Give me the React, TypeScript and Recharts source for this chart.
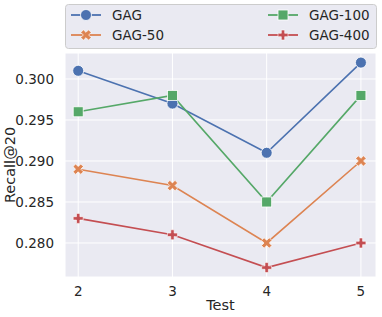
import { LineChart, Line, XAxis, YAxis, CartesianGrid, Label } from "recharts";

const tests = [2, 3, 4, 5];
const gag = [0.301, 0.297, 0.291, 0.302];
const gag50 = [0.289, 0.287, 0.28, 0.29];
const gag100 = [0.296, 0.298, 0.285, 0.298];
const gag400 = [0.283, 0.281, 0.277, 0.28];
const yTicks = [0.28, 0.285, 0.29, 0.295, 0.3];

const FONT = "DejaVu Sans, sans-serif";
const TEXT = "#262626";

const series = [
  { key: "gag", name: "GAG", color: "#4C72B0", marker: "circle" },
  { key: "gag50", name: "GAG-50", color: "#DD8452", marker: "x" },
  { key: "gag100", name: "GAG-100", color: "#55A868", marker: "square" },
  { key: "gag400", name: "GAG-400", color: "#C44E52", marker: "plus" },
];

const data = tests.map((t, i) => ({
  test: t,
  gag: gag[i],
  gag50: gag50[i],
  gag100: gag100[i],
  gag400: gag400[i],
}));

function Marker({ cx, cy, kind, color }: { cx: number; cy: number; kind: string; color: string }) {
  if (kind === "circle") {
    return <circle cx={cx} cy={cy} r={5.5} fill={color} stroke="#fff" strokeWidth={0.8} />;
  }
  if (kind === "square") {
    return <rect x={cx - 5} y={cy - 5} width={10} height={10} fill={color} stroke="#fff" strokeWidth={0.8} />;
  }
  const a = 5;
  const w = 1.7;
  const plus = `M${-w},${-a} L${w},${-a} L${w},${-w} L${a},${-w} L${a},${w} L${w},${w} L${w},${a} L${-w},${a} L${-w},${w} L${-a},${w} L${-a},${-w} L${-w},${-w} Z`;
  const rot = kind === "x" ? 45 : 0;
  const scale = kind === "x" ? 1.1 : 1;
  return (
    <path
      d={plus}
      transform={`translate(${cx},${cy}) rotate(${rot}) scale(${scale})`}
      fill={color}
      stroke="#fff"
      strokeWidth={0.6}
    />
  );
}

function LegendBox() {
  const cols = [
    [series[0], series[1]],
    [series[2], series[3]],
  ];
  return (
    <svg width={312} height={45} style={{ display: "block" }}>
      <rect x={0.5} y={0.5} width={311} height={44} rx={3} fill="#EAEAF2" stroke="#cccccc" />
      {cols.map((col, ci) =>
        col.map((s, ri) => {
          const x0 = ci === 0 ? 6 : 203;
          const y = 11 + ri * 20;
          return (
            <g key={s.key}>
              <line x1={x0} x2={x0 + 30} y1={y} y2={y} stroke={s.color} strokeWidth={1.8} />
              <Marker cx={x0 + 15} cy={y} kind={s.marker} color={s.color} />
              <text x={x0 + 41} y={y + 5} fontSize={13.5} fontFamily={FONT} fill={TEXT}>
                {s.name}
              </text>
            </g>
          );
        })
      )}
    </svg>
  );
}

export default function App() {
  return (
    <div style={{ position: "absolute", left: 0, top: 0, width: 382, height: 317, background: "#fff" }}>
      <LineChart width={382} height={317} data={data} margin={{ top: 53, right: 6, bottom: 0, left: 0 }}>
        <CartesianGrid stroke="#ffffff" strokeWidth={1} fill="#EAEAF2" />
        <XAxis
          dataKey="test"
          type="number"
          domain={[1.86, 5.16]}
          ticks={tests}
          axisLine={false}
          tickLine={false}
          tick={{ fontSize: 13.5, fontFamily: FONT, fill: TEXT }}
          tickMargin={3}
          height={40}
        >
          <Label value="Test" position="insideBottom" offset={7} style={{ fontSize: 14.5, fontFamily: FONT, fill: TEXT }} />
        </XAxis>
        <YAxis
          type="number"
          domain={[0.27585, 0.30317]}
          ticks={yTicks}
          tickFormatter={(v: number) => v.toFixed(3)}
          axisLine={false}
          tickLine={false}
          tick={{ fontSize: 13.5, fontFamily: FONT, fill: TEXT }}
          tickMargin={5}
          width={65}
        >
          <Label
            value="Recall@20"
            angle={-90}
            position="insideLeft"
            offset={10}
            style={{ fontSize: 14.5, fontFamily: FONT, fill: TEXT, textAnchor: "middle" }}
          />
        </YAxis>
        {series.map((s) => (
          <Line
            key={s.key}
            dataKey={s.key}
            name={s.name}
            stroke={s.color}
            strokeWidth={1.6}
            isAnimationActive={false}
            dot={(p: any) => <Marker key={`${s.key}-${p.index}`} cx={p.cx} cy={p.cy} kind={s.marker} color={s.color} />}
            activeDot={false}
          />
        ))}
      </LineChart>
      <div style={{ position: "absolute", left: 65, top: 4 }}>
        <LegendBox />
      </div>
    </div>
  );
}
